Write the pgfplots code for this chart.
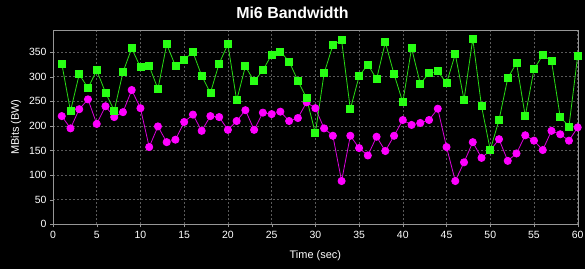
\documentclass[border=0pt]{standalone}
\usepackage{pgfplots}
\pgfplotsset{compat=1.18}
\usepackage{fontspec}
\setmainfont{Liberation Sans}
\definecolor{gridc}{RGB}{90,90,90}
\definecolor{framec}{RGB}{150,150,150}
\definecolor{mgreen}{RGB}{40,255,20}
\definecolor{lgreen}{RGB}{40,220,20}
\definecolor{mmag}{RGB}{255,0,255}
\definecolor{lmag}{RGB}{220,0,220}
\begin{document}
\begin{tikzpicture}[x=1bp,y=1bp]
\fill[black] (0,0) rectangle (585,269);
\path[use as bounding box] (0,0) rectangle (585,269);
\node[white,font=\bfseries\fontsize{16}{18}\selectfont] at (292.5,256) {Mi6 Bandwidth};
\begin{axis}[
  at={(53bp,44.7bp)}, anchor=south west,
  scale only axis, width=524.7bp, height=194.3bp,
  xmin=0, xmax=60, ymin=0, ymax=395,
  xtick={0,5,...,60}, ytick={0,50,...,350},
  /pgf/number format/assume math mode=true,
  tick label style={white,font=\fontsize{10.5}{12}\selectfont},
  label style={white,font=\fontsize{11}{13}\selectfont},
  xlabel={Time (sec)}, ylabel={MBits (BW)},
  xlabel style={yshift=-5bp},
  ylabel style={yshift=1bp},
  axis line style={framec},
  tick style={framec},
  tick align=outside, major tick length=3bp,
  xtick pos=bottom, ytick pos=left,
  grid=major, major grid style={gridc, dash pattern=on 2bp off 2bp, line width=0.5bp},
  clip=false,
]
\addplot[lmag, line width=0.8bp, mark=*, mark size=3.6bp, mark options={fill=mmag, draw=mmag}] coordinates {
(1,220)(2,195)(3,234)(4,254)(5,204)(6,240)(7,218)(8,228)(9,273)(10,236)
(11,157)(12,199)(13,167)(14,172)(15,208)(16,223)(17,190)(18,220)(19,218)(20,192)
(21,210)(22,232)(23,192)(24,227)(25,224)(26,229)(27,210)(28,216)(29,248)(30,236)
(31,195)(32,180)(33,88)(34,180)(35,155)(36,140)(37,178)(38,149)(39,180)(40,212)
(41,202)(42,206)(43,212)(44,235)(45,157)(46,88)(47,126)(48,167)(49,135)(50,150)
(51,173)(52,129)(53,144)(54,181)(55,170)(56,151)(57,190)(58,183)(59,170)(60,197)
};
\addplot[lgreen, line width=0.8bp, mark=square*, mark size=3.5bp, mark options={fill=mgreen, draw=mgreen}] coordinates {
(1,327)(2,230)(3,305)(4,277)(5,313)(6,268)(7,231)(8,309)(9,358)(10,319)
(11,322)(12,275)(13,366)(14,322)(15,335)(16,350)(17,302)(18,267)(19,327)(20,366)
(21,252)(22,321)(23,291)(24,313)(25,345)(26,351)(27,331)(28,292)(29,256)(30,185)
(31,307)(32,364)(33,374)(34,234)(35,301)(36,325)(37,295)(38,370)(39,305)(40,248)
(41,358)(42,286)(43,307)(44,311)(45,287)(46,346)(47,253)(48,377)(49,240)(50,151)
(51,212)(52,297)(53,328)(54,220)(55,315)(56,344)(57,332)(58,218)(59,199)(60,343)
};
\end{axis}
\end{tikzpicture}
\end{document}
